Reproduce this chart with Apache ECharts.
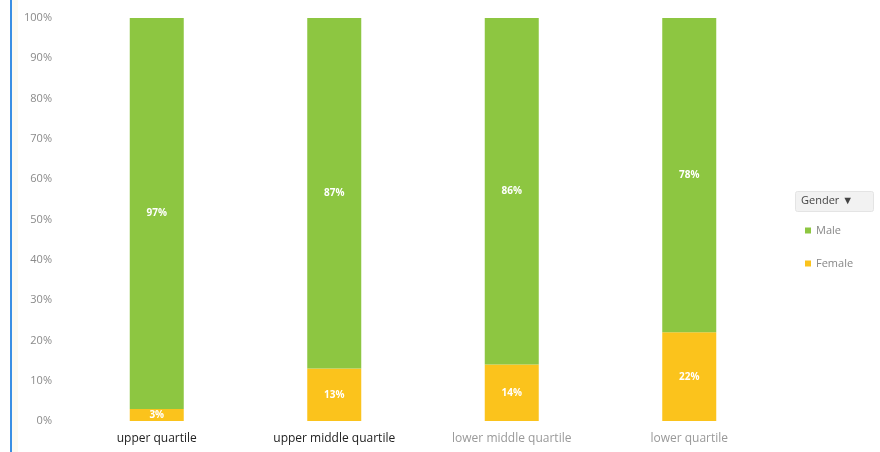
<!DOCTYPE html>
<html>
<head>
<meta charset="utf-8">
<script src="https://cdn.jsdelivr.net/npm/echarts@6/dist/echarts.min.js"></script>
<style>html,body{margin:0;padding:0;background:#fff;}#c{width:880px;height:452px;}</style>
</head>
<body>
<div id="c"></div>
<script>
const categories = ['upper quartile', 'upper middle quartile', 'lower middle quartile', 'lower quartile'];
const maleValues = [97, 87, 86, 78];
const femaleValues = [3, 13, 14, 22];
const yTicks = [0, 10, 20, 30, 40, 50, 60, 70, 80, 90, 100];

const chart = echarts.init(document.getElementById('c'));
const labelStyle = {
  show: true, position: 'inside', color: '#fff', fontSize: 10, fontWeight: 'bold',
  fontFamily: 'Open Sans', formatter: p => p.value + '%'
};
chart.setOption({
  animation: false,
  backgroundColor: '#fff',
  grid: { left: 68, right: 102, top: 18, bottom: 31, containLabel: false },
  xAxis: {
    type: 'category', data: categories,
    axisLine: { show: false }, axisTick: { show: false },
    axisLabel: {
      interval: 0, margin: 12, fontSize: 12, fontFamily: 'Open Sans',
      formatter: (v, i) => i < 2 ? '{d|' + v + '}' : '{l|' + v + '}',
      rich: {
        d: { color: '#222', fontSize: 12, fontFamily: 'Open Sans' },
        l: { color: '#999', fontSize: 12, fontFamily: 'Open Sans' }
      }
    }
  },
  yAxis: {
    type: 'value', min: yTicks[0], max: yTicks[yTicks.length - 1], interval: 10,
    axisLine: { show: false }, axisTick: { show: false }, splitLine: { show: false },
    axisLabel: { margin: 16, color: '#8a8a8a', fontSize: 11, fontFamily: 'Open Sans', formatter: v => v + '%' }
  },
  legend: {
    data: ['Male', 'Female'], orient: 'vertical', left: 800, top: 220, itemGap: 22,
    itemWidth: 6, itemHeight: 6, icon: 'rect',
    textStyle: { color: '#888', fontSize: 11, fontFamily: 'Open Sans' }
  },
  graphic: [
    { type: 'rect', left: 10, top: 0, shape: { width: 2, height: 452 }, style: { fill: '#3b8fe3' } },
    { type: 'rect', left: 12, top: 0, shape: { width: 6, height: 452 }, style: { fill: '#fdfaf0' } },
    { type: 'rect', left: 795, top: 191, shape: { width: 78, height: 20, r: 2 }, style: { fill: '#f2f2f2', stroke: '#e4e4e4' } },
    { type: 'text', left: 801, top: 195, style: { text: 'Gender ▼', fill: '#444', fontSize: 11, fontFamily: 'Open Sans' } }
  ],
  series: [
    { name: 'Female', type: 'bar', stack: 'g', data: femaleValues, barWidth: 54,
      itemStyle: { color: '#fbc31c' }, label: labelStyle },
    { name: 'Male', type: 'bar', stack: 'g', data: maleValues, barWidth: 54,
      itemStyle: { color: '#8dc641' }, label: labelStyle }
  ]
});
</script>
</body>
</html>
